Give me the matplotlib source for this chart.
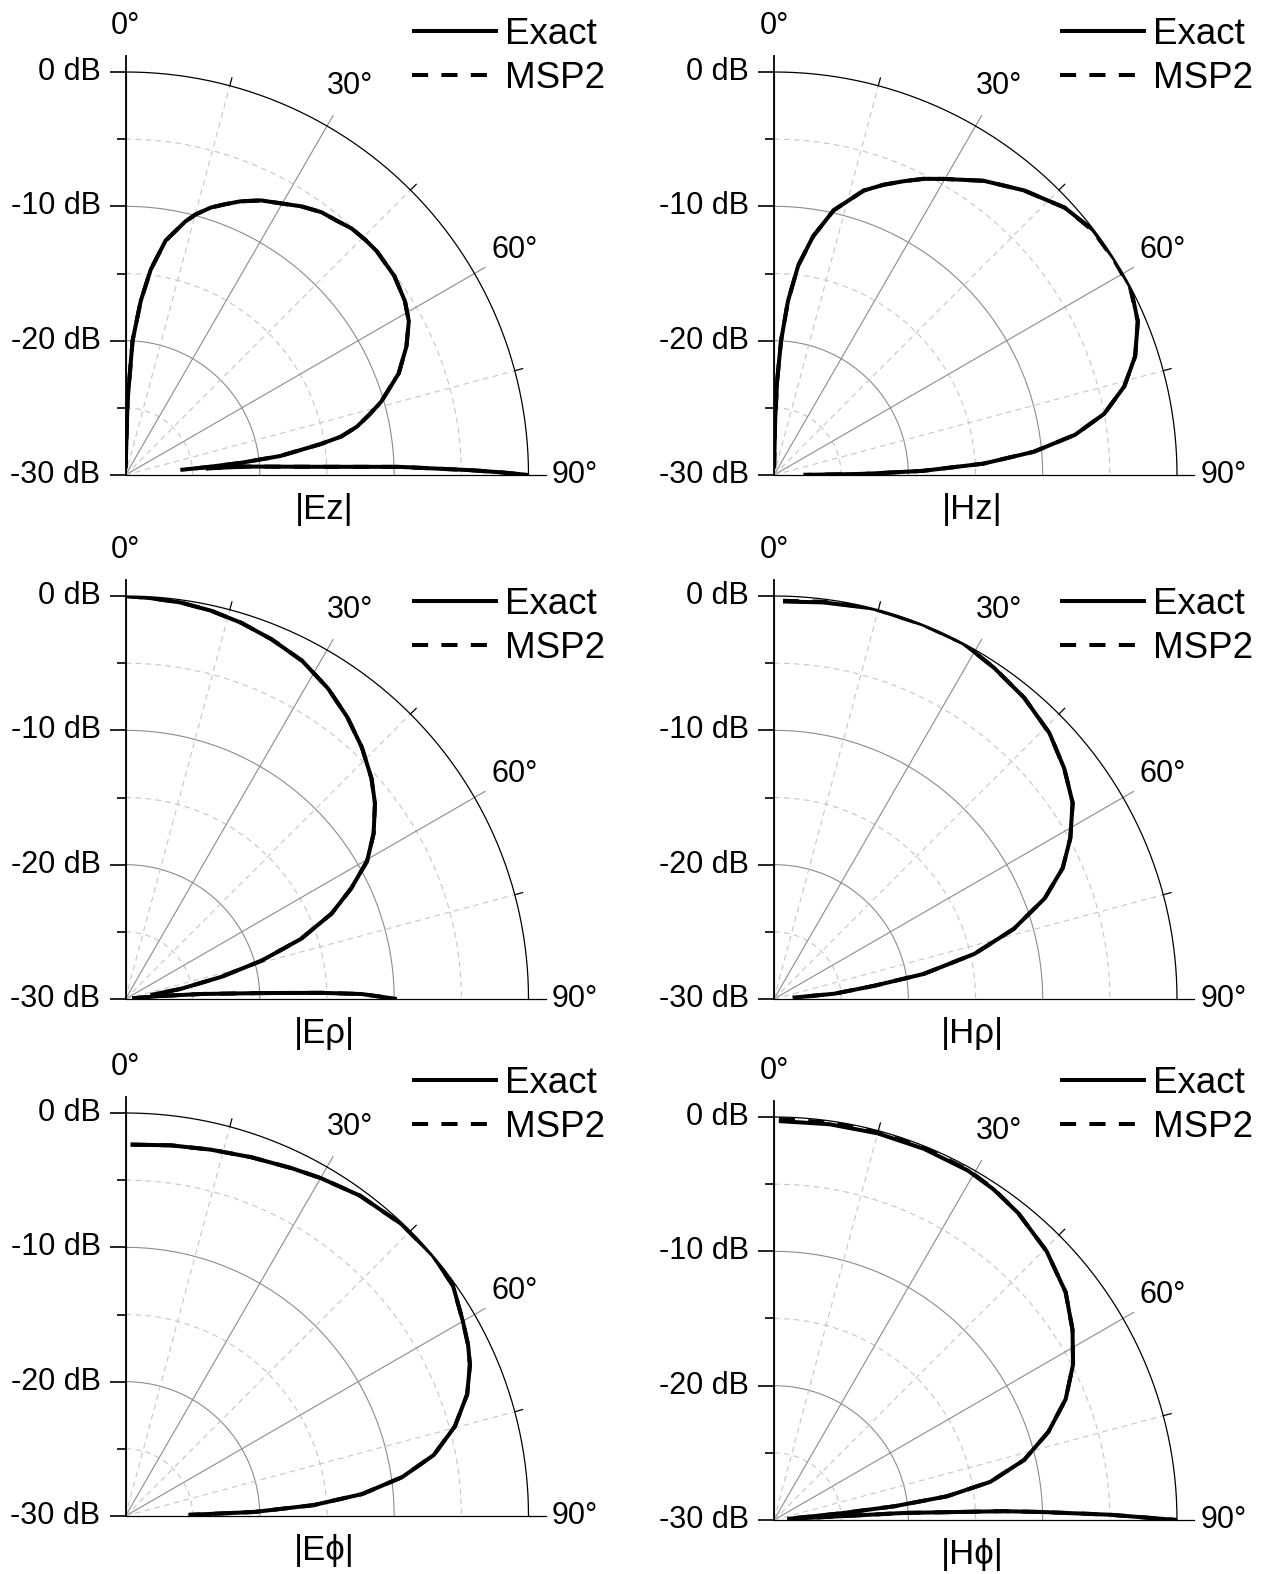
import numpy as np
import matplotlib
matplotlib.use('Agg')
import matplotlib.pyplot as plt
from matplotlib.transforms import ScaledTranslation

plt.rcParams['font.family'] = ['Liberation Sans', 'DejaVu Sans']

nan = np.nan

# angle in degrees, level in dB; nan = pattern below -30 dB (line broken there)
ez_theta = [0.9, 1.6, 3.0, 5.0, 7.0, 9.7, 13.3, 15.1, 17.7, 20.3, 22.8, 26.3, 29.8, 33.2,
            36.7, 39.6, 42.5, 45.4, 48.3, 53.5, 58.1, 61.5, 65.4, 69.6, 74.0, 76.1, 78.2,
            79.9, 81.0, 83.0, 84.0, 84.5, 84.7, 85.0, 85.3, 86.0, 87.4, 88.3, 89.2, 89.6, 90.0]
ez_exact = [-29.5, -24.5, -20.0, -17.0, -14.6, -12.3, -10.6, -9.9, -9.1, -8.5, -7.9, -7.2,
            -6.7, -6.1, -5.6, -5.4, -5.1, -5.0, -4.95, -5.1, -5.5, -6.0, -7.0, -8.3, -10.2,
            -11.3, -12.4, -13.7, -15.3, -18.4, -21.4, -24.0, -25.9, nan, -24.0, -21.0, -16.5,
            -9.6, -4.3, -2.0, 0.0]
ez_msp2 = [-29.5, -24.5, -20.0, -17.0, -14.6, -12.3, -10.6, -9.9, -9.1, -8.5, -7.9, -7.2,
           -6.7, -6.1, -5.6, -5.4, -5.1, -5.0, -4.95, -5.1, -5.5, -6.0, -7.0, -8.3, -10.2,
           -11.3, -12.4, -13.7, -15.3, -18.4, -21.4, -23.8, -25.5, nan, -24.0, -21.0, -16.5,
           -9.6, -4.3, -2.0, 0.0]

hz_theta = [0.8, 1.2, 1.9, 3.0, 4.6, 6.6, 9.3, 12.7, 17.5, 20.7, 23.8, 26.8, 29.8, 35.5,
            41.3, 47.4, 52.5, 57.6, 62.3, 67.1, 71.8, 75.8, 79.5, 82.4, 84.9, 86.9, 88.4,
            89.3, 89.8]
hz_exact = [-29.5, -26.0, -23.0, -20.0, -17.0, -14.3, -12.0, -9.8, -7.8, -6.9, -6.1, -5.3,
            -4.6, -3.1, -1.8, -0.6, -0.05, 0.0, 0.0, -0.6, -1.7, -3.1, -5.0, -7.4, -10.6,
            -14.4, -18.9, -23.3, -27.8]
hz_msp2 = [-29.5, -26.0, -23.0, -20.0, -17.0, -14.3, -12.0, -9.8, -7.8, -6.9, -6.1, -5.3,
           -4.6, -3.1, -1.8, -0.6, -0.1, -0.05, -0.05, -0.6, -1.7, -3.1, -5.0, -7.4, -10.6,
           -14.4, -18.9, -23.3, -27.8]

erho_theta = [0.0, 3.6, 7.9, 12.4, 17.1, 22.1, 27.6, 33.1, 38.2, 43.2, 48.1, 51.9, 56.3,
              60.3, 63.9, 67.5, 71.1, 74.3, 77.0, 79.6, 80.9, 82.0, 84.0, 85.1, 86.2, 87.5,
              88.2, 88.8, 90.0]
erho_exact = [0.0, -0.1, -0.2, -0.4, -0.7, -1.1, -1.6, -2.4, -3.3, -4.3, -5.4, -6.4, -7.8,
              -9.3, -11.3, -13.4, -16.2, -19.5, -22.7, -25.8, -28.1, nan, -29.5, -27.4,
              -24.4, -19.9, -15.4, -12.4, -9.8]
erho_msp2 = [0.0, -0.1, -0.2, -0.4, -0.7, -1.1, -1.6, -2.4, -3.3, -4.3, -5.4, -6.4, -7.8,
             -9.3, -11.3, -13.4, -16.2, -19.5, -22.7, -25.8, -28.1, nan, -29.5, -27.4,
             -24.4, -19.9, -15.4, -12.4, -9.8]

hrho_theta = [1.3, 7.1, 14.3, 21.7, 28.0, 33.6, 39.7, 46.0, 51.5, 56.7, 61.5, 65.6, 69.6,
              73.7, 77.3, 80.5, 82.5, 85.0, 86.0]
hrho_exact = [-0.4, -0.25, 0.0, 0.0, 0.0, -0.4, -0.85, -1.5, -2.4, -3.4, -4.9, -6.4, -8.5,
              -11.4, -14.7, -18.7, -22.5, -25.5, -28.6]
hrho_msp2 = [-0.35, -0.2, 0.0, 0.0, 0.0, -0.4, -0.85, -1.5, -2.4, -3.4, -4.9, -6.4, -8.5,
             -11.4, -14.7, -18.7, -22.5, -25.5, -28.6]

ephi_theta = [0.8, 7.0, 13.1, 19.3, 25.6, 30.0, 36.2, 43.3, 49.7, 54.9, 60.0, 63.5, 66.3,
              70.4, 74.8, 78.8, 82.0, 84.7, 86.7, 88.2, 89.0]
ephi_exact = [-2.35, -2.2, -2.0, -1.7, -1.3, -0.95, -0.45, -0.1, 0.0, -0.2, -1.0, -1.5, -2.0,
              -3.0, -4.6, -6.6, -9.2, -12.3, -16.0, -20.4, -25.3]
ephi_msp2 = [-2.35, -2.2, -2.0, -1.7, -1.3, -0.95, -0.45, -0.1, 0.0, -0.2, -1.0, -1.5, -2.0,
             -3.0, -4.6, -6.6, -9.2, -12.3, -16.0, -20.4, -25.3]

hphi_theta = [0.7, 8.0, 15.0, 22.0, 29.0, 33.5, 38.5, 45.4, 52.0, 57.5, 62.5, 67.5, 72.2,
              76.5, 80.0, 82.2, 83.5, 84.3, 84.8, 85.1, 85.5, 86.9, 87.8, 88.3, 89.1, 90.0]
hphi_exact = [-0.3, -0.25, -0.2, -0.2, -0.25, -0.45, -0.8, -1.5, -2.45, -3.65, -4.9, -6.5,
              -8.55, -10.85, -13.65, -17.0, -21.0, -25.0, -28.5, nan, -29.0, -20.3, -12.9,
              -10.0, -5.0, 0.0]
hphi_msp2 = [-0.15, -0.12, -0.1, -0.12, -0.2, -0.42, -0.8, -1.5, -2.45, -3.65, -4.9, -6.5,
             -8.55, -10.85, -13.65, -17.0, -21.0, -25.0, -28.5, nan, -29.0, -20.3, -12.9,
             -10.0, -5.0, 0.0]

db_major = [0, -10, -20, -30]
db_minor = [-5, -15, -25]
ang_major = [30, 60]
ang_minor = [15, 45, 75]
ang_labels = [0, 30, 60, 90]

GRID = '#8c8c8c'
GRID_LIGHT = '#c6c6c6'
R = 403  # px radius of each quarter plot


def draw_panel(fig, cx, cy, legend_top, title, theta, exact, msp2):
    W, H = fig.bbox.width, fig.bbox.height
    ax = fig.add_axes([cx / W, 1 - cy / H, R / W, R / H], projection='polar')
    ax.set_theta_zero_location('N')
    ax.set_theta_direction(-1)
    ax.set_thetalim(0, np.pi / 2)
    ax.grid(False)
    ax.set_xticks([])
    ax.set_yticks([])
    for s in ax.spines.values():
        s.set_visible(False)

    arc = np.radians(np.linspace(0, 90, 181))
    for r in db_major[1:3]:
        ax.plot(arc, np.full_like(arc, r), color=GRID, lw=0.8, clip_on=False)
    for r in db_minor:
        ax.plot(arc, np.full_like(arc, r), color=GRID_LIGHT, lw=0.8, dashes=(5, 4), clip_on=False)
    for t in ang_major:
        ax.plot([np.radians(t)] * 2, [-30, 0.9], color=GRID, lw=0.8, clip_on=False)
    for t in ang_minor:
        ax.plot([np.radians(t)] * 2, [-30, 0], color=GRID_LIGHT, lw=0.8, dashes=(5, 4), clip_on=False)
        ax.plot([np.radians(t)] * 2, [0, 0.6], color='k', lw=0.9, clip_on=False)
    # 90 deg baseline (grey inside, black tick outside)
    ax.plot([np.pi / 2] * 2, [-30, 0], color=GRID, lw=0.9, clip_on=False)
    ax.plot([np.pi / 2] * 2, [0, 1.3], color='k', lw=0.9, clip_on=False)
    # outer 0 dB arc and the radial axis
    ax.plot(arc, np.zeros_like(arc), color='k', lw=0.9, clip_on=False)
    ax.plot([0, 0], [-30, 1.2], color='k', lw=1.3, clip_on=False)
    ax.plot(np.zeros(len(db_major)), db_major, ls='none', marker=0, ms=11.5,
            mew=1.2, color='k', clip_on=False)
    ax.plot(np.zeros(len(db_minor)), db_minor, ls='none', marker=0, ms=6.3,
            mew=1.2, color='k', clip_on=False)

    shift = ScaledTranslation(-0.25, 0, fig.dpi_scale_trans)
    for r in db_major:
        ax.text(0, r, f'{r} dB', transform=ax.transData + shift, ha='right',
                va='center', fontsize=22)
    for t in ang_labels:
        ax.text(np.radians(t), 3.45, f'{t}°', ha='center', va='center', fontsize=22)

    th = np.radians(theta)
    l1, = ax.plot(th, exact, color='k', lw=2.9, solid_capstyle='butt',
                  solid_joinstyle='round')
    l2, = ax.plot(th, msp2, color='k', lw=2.9, dashes=(4.0, 3.3))
    ax.set_ylim(-30, 0)

    ax.text(0.493, -0.085, title, transform=ax.transAxes, ha='center', va='center',
            fontsize=25)
    ax.legend([l1, l2], ['Exact', 'MSP2'], loc='upper left',
              bbox_to_anchor=((cx + 286) / W, 1 - legend_top / H),
              bbox_transform=fig.transFigure, frameon=False, fontsize=26.5,
              handlelength=2.34, handletextpad=0.19, borderpad=0, borderaxespad=0,
              labelspacing=0.25)
    return ax


fig = plt.figure(figsize=(12.62, 15.74), dpi=100)

draw_panel(fig, 125.5, 475, 17, '|Ez|', ez_theta, ez_exact, ez_msp2)
draw_panel(fig, 774, 475, 17, '|Hz|', hz_theta, hz_exact, hz_msp2)
draw_panel(fig, 125.5, 999, 587, '|Eρ|', erho_theta, erho_exact, erho_msp2)
draw_panel(fig, 774, 999, 587, '|Hρ|', hrho_theta, hrho_exact, hrho_msp2)
draw_panel(fig, 125.5, 1516, 1066, '|Eϕ|', ephi_theta, ephi_exact, ephi_msp2)
draw_panel(fig, 774, 1520, 1066, '|Hϕ|', hphi_theta, hphi_exact, hphi_msp2)

fig.savefig('out.png', dpi=100, facecolor='white')
